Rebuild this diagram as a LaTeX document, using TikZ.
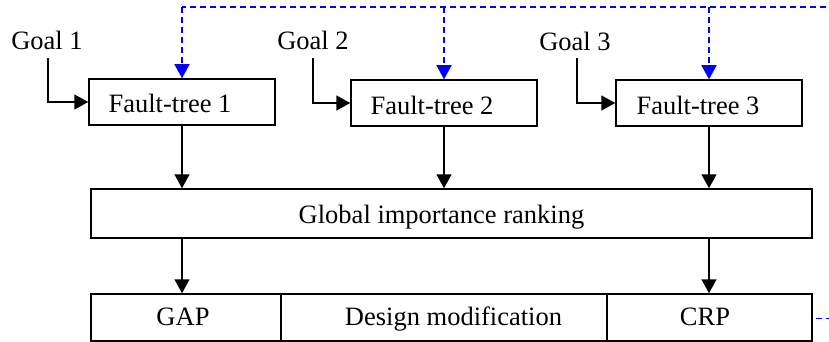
\documentclass[tikz,border=0pt]{standalone}
\usepackage{fontspec}
\setmainfont{Liberation Serif}
\usetikzlibrary{arrows.meta}
\begin{document}
\begin{tikzpicture}[x=1pt,y=-1pt,
  box/.style={draw, line width=1.5pt, rectangle, inner sep=0pt},
  txt/.style={inner sep=0pt, font=\fontsize{26.5}{31}\selectfont},
  arr/.style={line width=1.5pt, -{Triangle[width=15pt,length=14pt]}},
  fb/.style={draw=blue, line width=1.5pt, dash pattern=on 6pt off 4pt},
  fbarr/.style={fb, -{Triangle[width=15pt,length=14pt,sep=0pt]}}]
\clip (0,0) rectangle (829,342);
% fault-tree boxes
\node[box, minimum width=186pt, minimum height=46pt] (ft1) at (182,102) {};
\node[box, minimum width=186pt, minimum height=46pt] (ft2) at (444,103) {};
\node[box, minimum width=186pt, minimum height=46pt] (ft3) at (709,103) {};
\node[txt, anchor=base] (ft1t) at (170,113) {Fault-tree 1};
\node[txt, anchor=base] (ft2t) at (432,114) {Fault-tree 2};
\node[txt, anchor=base] (ft3t) at (698,114) {Fault-tree 3};
% goals
\node[txt, anchor=base] (g1) at (47,50) {Goal 1};
\node[txt, anchor=base] (g2) at (313,50) {Goal 2};
\node[txt, anchor=base] (g3) at (575,51) {Goal 3};
% global ranking
\node[box, minimum width=721pt, minimum height=49pt] (glob) at (451.5,213.5) {};
\node[txt, anchor=base] (globt) at (441.5,223) {Global importance ranking};
% bottom row
\node[box, minimum width=190pt, minimum height=47pt] (gap) at (186,317.5) {};
\node[box, minimum width=326pt, minimum height=47pt] (des) at (444,317.5) {};
\node[box, minimum width=205pt, minimum height=47pt] (crp) at (709.5,317.5) {};
\node[txt, anchor=base] (gapt) at (183,325) {GAP};
\node[txt, anchor=base] (dest) at (453.5,325) {Design modification};
\node[txt, anchor=base] (crpt) at (705,325) {CRP};
% goal arrows
\draw[arr] ([xshift=1pt,yshift=-8pt]g1.south) |- (ft1.west);
\draw[arr] ([yshift=-8pt]g2.south) |- (ft2.west);
\draw[arr] ([xshift=2pt,yshift=-7pt]g3.south) |- (ft3.west);
% fault-trees to global
\draw[arr] (ft1.south) -- (ft1.south |- glob.north);
\draw[arr] (ft2.south) -- (ft2.south |- glob.north);
\draw[arr] (ft3.south) -- (ft3.south |- glob.north);
% global to GAP / CRP
\draw[arr] (ft1.south |- glob.south) -- (ft1.south |- gap.north);
\draw[arr] (ft3.south |- glob.south) -- (ft3.south |- crp.north);
% feedback loop
\coordinate (fbtop) at (850,7);
\coordinate (fbout) at ([xshift=3pt,yshift=-1pt]crp.east);
\draw[fb] (fbout) -- (fbout -| fbtop) -- (fbtop) -- (fbtop -| ft1.north);
\draw[fbarr] (fbtop -| ft1.north) -- (ft1.north);
\draw[fbarr] (fbtop -| ft2.north) -- (ft2.north);
\draw[fbarr] (fbtop -| ft3.north) -- (ft3.north);
\end{tikzpicture}
\end{document}
